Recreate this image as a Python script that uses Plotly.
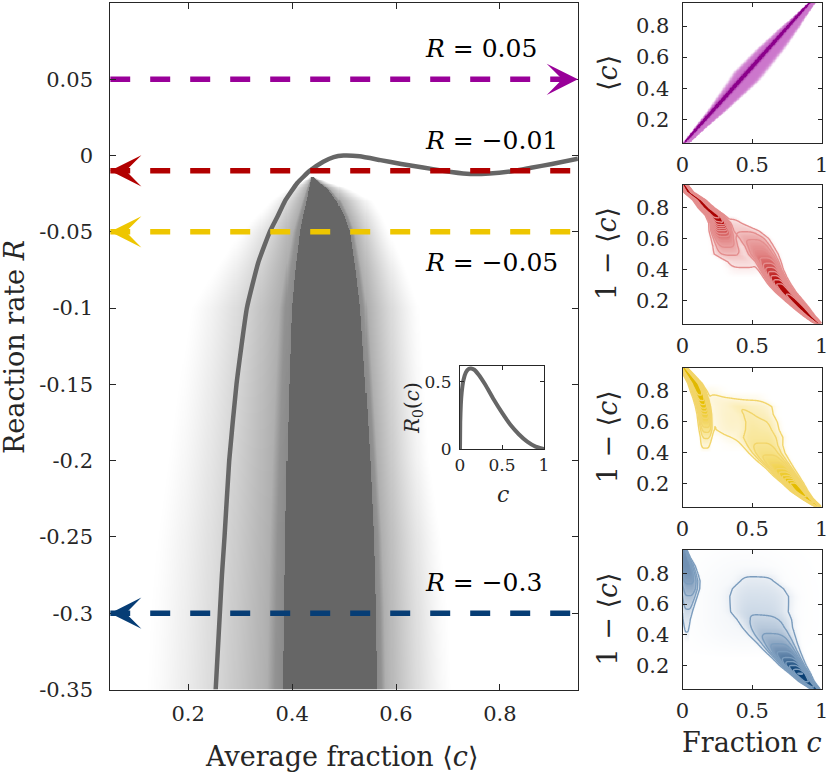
import numpy as np
import plotly.graph_objects as go

# ---------------- main panel data ----------------
# R(<c>) curve
CURVE_C = [0.253, 0.257, 0.261, 0.265, 0.270, 0.279, 0.293, 0.313, 0.335, 0.357,
           0.372, 0.386, 0.410, 0.434, 0.460, 0.480, 0.499, 0.530, 0.570, 0.610,
           0.652, 0.690, 0.736, 0.780, 0.820, 0.860, 0.900, 0.950]
CURVE_R = [-0.35, -0.325, -0.30, -0.275, -0.25, -0.20, -0.15, -0.10, -0.07, -0.05,
           -0.04, -0.03, -0.018, -0.01, -0.004, -0.001, 0.0, -0.0005, -0.003, -0.0055,
           -0.0078, -0.010, -0.012, -0.0118, -0.0104, -0.0080, -0.0055, -0.002]

# gray density behind the curve: per R row, dark core and soft halo edges
DENS_R = [-0.35, -0.30, -0.25, -0.20, -0.15, -0.10, -0.075, -0.05, -0.04, -0.03, -0.022, -0.014]
CORE_L = [0.383, 0.385, 0.387, 0.390, 0.394, 0.399, 0.406, 0.415, 0.421, 0.428, 0.433, 0.438]
CORE_R = [0.563, 0.561, 0.557, 0.550, 0.541, 0.531, 0.522, 0.511, 0.500, 0.486, 0.468, 0.438]
HALO_L = [0.118, 0.125, 0.138, 0.159, 0.180, 0.204, 0.250, 0.300, 0.330, 0.357, 0.390, 0.438]
HALO_R = [0.707, 0.700, 0.688, 0.665, 0.655, 0.646, 0.620, 0.588, 0.575, 0.556, 0.510, 0.438]

# inset R0(c)
R0_C = [0.0, 0.003, 0.01, 0.02, 0.04, 0.07, 0.10, 0.13, 0.17, 0.22, 0.30, 0.40,
        0.50, 0.60, 0.70, 0.80, 0.90, 1.0]
R0_V = [0.0, 0.20, 0.33, 0.42, 0.51, 0.57, 0.595, 0.60, 0.59, 0.555, 0.48, 0.37,
        0.27, 0.18, 0.11, 0.055, 0.018, 0.0]

# reaction-rate cuts
CUT_R = [0.05, -0.01, -0.05, -0.3]
CUT_DIR = ["right", "left", "left", "left"]
CUT_COL = ["#990099", "#b20000", "#eec600", "#063d75"]
CUT_TXT = ["<i>R</i> = 0.05", "<i>R</i> = \u22120.01", "<i>R</i> = \u22120.05", "<i>R</i> = \u22120.3"]

# ---------------- right panels: row profiles of the density ----------------
PANEL_Y = [0.05, 0.10, 0.15, 0.20, 0.25, 0.30, 0.35, 0.40, 0.45, 0.50,
           0.55, 0.60, 0.65, 0.70, 0.75, 0.80, 0.85, 0.90, 0.95]

# R = 0.05 (y = <c>)
P1_CORE_M = [0.01, 0.06, 0.11, 0.16, 0.21, 0.26, 0.31, 0.36, 0.41, 0.46,
             0.51, 0.56, 0.61, 0.66, 0.71, 0.76, 0.81, 0.86, 0.91]
P1_CORE_S = [0.006, 0.008, 0.009, 0.010, 0.011, 0.012, 0.012, 0.013, 0.013, 0.013,
             0.013, 0.013, 0.012, 0.012, 0.011, 0.010, 0.009, 0.008, 0.006]
P1_CORE_A = [1.0, 1.0, 1.0, 1.0, 1.0, 1.0, 1.0, 1.0, 1.0, 1.0,
             1.0, 1.0, 1.0, 1.0, 1.0, 1.0, 1.0, 1.0, 1.0]
P1_BAND_M = [0.03, 0.08, 0.13, 0.185, 0.24, 0.29, 0.34, 0.39, 0.44, 0.48,
             0.53, 0.58, 0.63, 0.68, 0.73, 0.78, 0.83, 0.88, 0.93]
P1_BAND_S = [0.02, 0.03, 0.04, 0.05, 0.06, 0.07, 0.08, 0.09, 0.10, 0.105,
             0.10, 0.095, 0.09, 0.08, 0.07, 0.06, 0.045, 0.035, 0.025]
P1_BAND_A = [0.38, 0.38, 0.38, 0.38, 0.38, 0.38, 0.38, 0.38, 0.38, 0.38,
             0.38, 0.38, 0.38, 0.38, 0.38, 0.38, 0.38, 0.38, 0.38]

# R = -0.01 (y = 1 - <c>)
P2_A_M = [0.975, 0.91, 0.855, 0.80, 0.745, 0.70, 0.665, 0.635, 0.61, 0.57,
          0.54, 0.50, 0.44, 0.36, 0.30, 0.30, 0.30, 0.30, 0.30]
P2_A_S = [0.017, 0.026, 0.035, 0.041, 0.046, 0.051, 0.054, 0.058, 0.065, 0.080,
          0.080, 0.087, 0.087, 0.058, 0.058, 0.058, 0.058, 0.058, 0.058]
P2_A_A = [1.0, 1.0, 1.0, 0.95, 0.9, 0.85, 0.7, 0.55, 0.4, 0.3,
          0.25, 0.18, 0.1, 0.06, 0.0, 0.0, 0.0, 0.0, 0.0]
P2_B_M = [0.45, 0.45, 0.45, 0.45, 0.45, 0.45, 0.45, 0.45, 0.42, 0.34,
          0.32, 0.30, 0.28, 0.27, 0.235, 0.17, 0.12, 0.045, 0.01]
P2_B_S = [0.10, 0.10, 0.10, 0.10, 0.10, 0.10, 0.10, 0.10, 0.087, 0.087,
          0.073, 0.065, 0.058, 0.051, 0.044, 0.036, 0.029, 0.022, 0.017]
P2_B_A = [0.0, 0.0, 0.0, 0.0, 0.0, 0.0, 0.0, 0.02, 0.06, 0.12,
          0.2, 0.3, 0.5, 0.8, 0.95, 0.95, 0.95, 1.0, 1.0]

# R = -0.05
P3_A_M = [0.975, 0.90, 0.84, 0.795, 0.745, 0.70, 0.65, 0.605, 0.575, 0.56,
          0.56, 0.555, 0.53, 0.50, 0.45, 0.45, 0.45, 0.45, 0.45]
P3_A_S = [0.015, 0.026, 0.039, 0.048, 0.059, 0.067, 0.080, 0.091, 0.104, 0.119,
          0.102, 0.099, 0.099, 0.123, 0.116, 0.116, 0.116, 0.116, 0.116]
P3_A_A = [0.7, 0.8, 0.9, 0.85, 0.6, 0.42, 0.32, 0.25, 0.2, 0.16,
          0.13, 0.11, 0.09, 0.07, 0.02, 0.0, 0.0, 0.0, 0.0]
P3_B_M = [0.165, 0.165, 0.165, 0.165, 0.165, 0.165, 0.165, 0.165, 0.165, 0.17,
          0.17, 0.165, 0.16, 0.15, 0.135, 0.115, 0.09, 0.05, 0.01]
P3_B_S = [0.029, 0.029, 0.029, 0.029, 0.029, 0.029, 0.029, 0.029, 0.029, 0.032,
          0.036, 0.036, 0.036, 0.036, 0.036, 0.036, 0.032, 0.025, 0.017]
P3_B_A = [0.0, 0.0, 0.0, 0.0, 0.0, 0.0, 0.0, 0.0, 0.05, 0.12,
          0.22, 0.35, 0.5, 0.7, 0.85, 0.95, 1.0, 1.0, 1.0]
P3_C_M = [0.37, 0.37, 0.37, 0.37, 0.37, 0.37, 0.37, 0.37, 0.38, 0.37,
          0.36, 0.36, 0.35, 0.33, 0.25, 0.20, 0.20, 0.20, 0.20]
P3_C_S = [0.08, 0.08, 0.08, 0.08, 0.08, 0.08, 0.08, 0.08, 0.06, 0.07,
          0.10, 0.10, 0.10, 0.10, 0.08, 0.06, 0.06, 0.06, 0.06]
P3_C_A = [0.0, 0.0, 0.0, 0.0, 0.0, 0.0, 0.0, 0.0, 0.01, 0.03,
          0.06, 0.07, 0.07, 0.06, 0.04, 0.02, 0.0, 0.0, 0.0]

# R = -0.3
P4_A_M = [0.955, 0.89, 0.845, 0.795, 0.755, 0.715, 0.68, 0.645, 0.615, 0.595,
          0.56, 0.56, 0.56, 0.55, 0.54, 0.54, 0.54, 0.54, 0.54]
P4_A_S = [0.022, 0.036, 0.048, 0.061, 0.073, 0.087, 0.10, 0.116, 0.13, 0.145,
          0.16, 0.167, 0.174, 0.16, 0.116, 0.116, 0.116, 0.116, 0.116]
P4_A_A = [0.7, 0.85, 0.95, 0.75, 0.55, 0.42, 0.32, 0.24, 0.18, 0.14,
          0.11, 0.095, 0.08, 0.065, 0.045, 0.01, 0.0, 0.0, 0.0]
P4_B_M = [0.03, 0.03, 0.03, 0.03, 0.03, 0.03, 0.03, 0.03, 0.03, 0.03,
          0.035, 0.04, 0.045, 0.05, 0.045, 0.035, 0.025, 0.015, 0.008]
P4_B_S = [0.0145, 0.0145, 0.0145, 0.0145, 0.0145, 0.0145, 0.0145, 0.0145, 0.019, 0.023,
          0.029, 0.036, 0.044, 0.051, 0.055, 0.051, 0.044, 0.029, 0.017]
P4_B_A = [0.0, 0.0, 0.0, 0.0, 0.0, 0.0, 0.0, 0.03, 0.05, 0.08,
          0.12, 0.17, 0.23, 0.3, 0.36, 0.4, 0.42, 0.42, 0.4]
P4_C_M = [0.45, 0.45, 0.45, 0.45, 0.45, 0.45, 0.45, 0.45, 0.45, 0.45,
          0.45, 0.45, 0.45, 0.45, 0.45, 0.45, 0.45, 0.45, 0.45]
P4_C_S = [0.22, 0.22, 0.22, 0.22, 0.22, 0.22, 0.22, 0.22, 0.22, 0.22,
          0.22, 0.22, 0.22, 0.22, 0.22, 0.22, 0.22, 0.22, 0.22]
P4_C_A = [0.0, 0.0, 0.0, 0.0, 0.0, 0.005, 0.01, 0.015, 0.018, 0.02,
          0.02, 0.02, 0.02, 0.018, 0.016, 0.013, 0.01, 0.007, 0.004]

FONT = "DejaVu Serif"
AX_COL = "#262626"
W, H = 830, 773


def px_x(a, b):
    return [a / W, b / W]


def px_y(top, bottom):
    return [1 - bottom / H, 1 - top / H]


def main_density():
    xs = np.linspace(0.05, 0.95, 451)
    ys = np.linspace(-0.35, 0.1, 900)
    cl = np.interp(ys, DENS_R, CORE_L)[:, None]
    cr = np.interp(ys, DENS_R, CORE_R)[:, None]
    hl = np.interp(ys, DENS_R, HALO_L)[:, None]
    hr = np.interp(ys, DENS_R, HALO_R)[:, None]
    X = xs[None, :]
    core = (X >= cl) & (X <= cr)
    sl = np.clip((X - hl) / np.maximum(cl - hl, 1e-6), 0, 1)
    sr = np.clip((hr - X) / np.maximum(hr - cr, 1e-6), 0, 1)
    s = np.where(X < cl, sl, sr)
    halo = 0.62 * s ** 1.3 + 0.14 * np.clip((s - 0.88) / 0.06, 0, 1)
    z = np.where(core, 1.0, halo)
    z[ys > DENS_R[-1], :] = 0.0
    return xs, ys, z


def panel_field(modes, p_list):
    cs = np.linspace(0, 1, 241)
    ys = np.linspace(0.05, 0.95, 241)
    C = cs[None, :]
    z = np.zeros((len(ys), len(cs)))
    for (m, s, a), p in zip(modes, p_list):
        mm = np.interp(ys, PANEL_Y, m)[:, None]
        ss = np.interp(ys, PANEL_Y, s)[:, None]
        aa = np.interp(ys, PANEL_Y, a)[:, None]
        z += aa * np.exp(-np.abs((C - mm) / ss) ** p / 2)
    return cs, ys, z


fig = go.Figure()

# main panel
dx, dy, dz = main_density()
fig.add_trace(go.Heatmap(x=dx, y=dy, z=dz, zmin=0, zmax=1,
                         colorscale=[[0, "#ffffff"], [1, "#666666"]],
                         showscale=False, hoverinfo="skip", xaxis="x", yaxis="y"))
fig.add_trace(go.Scatter(x=CURVE_C, y=CURVE_R, mode="lines",
                         line=dict(color="#666666", width=4.5, shape="spline", smoothing=0.4),
                         hoverinfo="skip", xaxis="x", yaxis="y"))
X_RANGE = [0.05, 0.95]
for r, col in zip(CUT_R, CUT_COL):
    fig.add_trace(go.Scatter(x=X_RANGE, y=[r, r], mode="lines",
                             line=dict(color=col, width=5.5, dash="20px,20px"),
                             hoverinfo="skip", xaxis="x", yaxis="y"))

# inset
fig.add_trace(go.Scatter(x=R0_C, y=R0_V, mode="lines",
                         line=dict(color="#666666", width=4, shape="spline", smoothing=0.5),
                         cliponaxis=False, hoverinfo="skip", xaxis="x6", yaxis="y6"))

# right panels
panels = [
    ([(P1_CORE_M, P1_CORE_S, P1_CORE_A), (P1_BAND_M, P1_BAND_S, P1_BAND_A)], [2, 10],
     [[0, "#ffffff"], [0.38, "#cc77cc"], [1, "#8b008b"]], None, None),
    ([(P2_A_M, P2_A_S, P2_A_A), (P2_B_M, P2_B_S, P2_B_A)], [4, 4],
     [[0, "#ffffff"], [0.04, "#f8e0e0"], [0.15, "#eeb0b0"], [0.4, "#d86464"],
      [0.75, "#b80e0e"], [1, "#a80000"]], "#e48e8e", (0.03, 0.95, 0.08)),
    ([(P3_A_M, P3_A_S, P3_A_A), (P3_B_M, P3_B_S, P3_B_A), (P3_C_M, P3_C_S, P3_C_A)], [4, 4, 2],
     [[0, "#ffffff"], [0.04, "#fdf5d8"], [0.15, "#f9e8a0"], [0.4, "#f2d455"],
      [0.75, "#e8c000"], [1, "#e0b800"]], "#f2d56a", (0.03, 0.95, 0.08)),
    ([(P4_A_M, P4_A_S, P4_A_A), (P4_B_M, P4_B_S, P4_B_A), (P4_C_M, P4_C_S, P4_C_A)], [4, 4, 2],
     [[0, "#ffffff"], [0.03, "#edf1f6"], [0.12, "#cfdbe8"], [0.4, "#7594b6"],
      [0.75, "#1d4f80"], [1, "#00386e"]], "#7b9cbd", (0.04, 0.95, 0.1)),
]
for i, (modes, plist, cscale, lcol, lev) in enumerate(panels):
    xa, ya = "x%d" % (i + 2), "y%d" % (i + 2)
    cs, ys, z = panel_field(modes, plist)
    fig.add_trace(go.Heatmap(x=cs, y=ys, z=np.clip(z, 0, 1), zmin=0, zmax=1,
                             colorscale=cscale, showscale=False, hoverinfo="skip",
                             xaxis=xa, yaxis=ya))
    if lcol is not None:
        st, en, sz = lev
        fig.add_trace(go.Contour(x=cs, y=ys, z=z, showscale=False, hoverinfo="skip",
                                 contours=dict(coloring="none", start=st, end=en, size=sz),
                                 line=dict(color=lcol, width=1.4, smoothing=1.0),
                                 xaxis=xa, yaxis=ya))


def axis(domain, rng, tickvals, ticktext, anchor, size=21, ticklen=6, standoff=8):
    return dict(domain=domain, range=rng, tickvals=tickvals, ticktext=ticktext,
                anchor=anchor, ticks="inside", ticklen=ticklen, tickwidth=1,
                tickcolor=AX_COL, showline=True, linecolor=AX_COL, linewidth=1,
                mirror="ticks", showgrid=False, zeroline=False, automargin=False,
                tickfont=dict(family=FONT, size=size, color=AX_COL),
                ticklabelstandoff=standoff, fixedrange=True)


layout = dict(
    width=W, height=H, margin=dict(l=0, r=0, t=0, b=0, pad=0, autoexpand=False),
    paper_bgcolor="white", plot_bgcolor="white", showlegend=False,
    font=dict(family=FONT, color=AX_COL),
)
layout["xaxis"] = axis(px_x(110.2, 577.9), [0.05, 0.95], [0.2, 0.4, 0.6, 0.8],
                       ["0.2", "0.4", "0.6", "0.8"], "y", standoff=5)
layout["yaxis"] = axis(px_y(3, 689.5), [-0.35, 0.1],
                       [0.05, 0, -0.05, -0.1, -0.15, -0.2, -0.25, -0.3, -0.35],
                       ["0.05", "0", "-0.05", "-0.1", "-0.15", "-0.2", "-0.25", "-0.3", "-0.35"],
                       "x", standoff=12)
panel_px = [(2.7, 142.7), (184.5, 323.5), (368, 506.7), (550, 689)]
for i, (top, bot) in enumerate(panel_px):
    n = i + 2
    layout["xaxis%d" % n] = axis(px_x(682.5, 821.7), [0, 1], [0, 0.5, 1], ["0", "0.5", "1"],
                                 "y%d" % n, ticklen=4, standoff=3)
    layout["yaxis%d" % n] = axis(px_y(top, bot), [0.05, 0.95], [0.2, 0.4, 0.6, 0.8],
                                 ["0.2", "0.4", "0.6", "0.8"], "x%d" % n, ticklen=4, standoff=8)
layout["xaxis6"] = axis(px_x(460, 544), [0, 1], [0, 0.5, 1], ["0", "0.5", "1"], "y6",
                        size=17, ticklen=4, standoff=1)
layout["yaxis6"] = axis(px_y(365.7, 449), [0, 0.62], [0, 0.5], ["0", "0.5"], "x6",
                        size=17, ticklen=4, standoff=4)

ann = []
# arrow heads
for r, d, col in zip(CUT_R, CUT_DIR, CUT_COL):
    tip = X_RANGE[1] if d == "right" else X_RANGE[0]
    tail = tip - 0.03 if d == "right" else tip + 0.03
    ann.append(dict(x=tip, y=r, ax=tail, ay=r, xref="x", yref="y", axref="x", ayref="y",
                    text="", showarrow=True, arrowhead=3, arrowsize=1.3, arrowwidth=4,
                    arrowcolor=col))
# cut labels
label_y = [0.070, 0.010, -0.070, -0.2797]
for t, ly in zip(CUT_TXT, label_y):
    ann.append(dict(x=0.652, y=ly, xref="x", yref="y", text=t, showarrow=False,
                    xanchor="left", yanchor="middle",
                    font=dict(family=FONT, size=25, color="black")))


def txt(x, y, t, size=27, angle=0):
    return dict(x=x / W, y=1 - y / H, xref="paper", yref="paper", text=t, showarrow=False,
                xanchor="center", yanchor="middle", textangle=angle,
                font=dict(family=FONT, size=size, color=AX_COL))


ann.append(txt(14, 347, "Reaction rate <i>R</i>", angle=-90))
ann.append(txt(342, 756, "Average fraction \u27e8<i>c</i>\u27e9"))
ann.append(txt(752, 742, "Fraction <i>c</i>"))
ann.append(txt(607, 73, "\u27e8<i>c</i>\u27e9", angle=-90))
for top, bot in panel_px[1:]:
    ann.append(txt(607, (top + bot) / 2, "1 \u2212 \u27e8<i>c</i>\u27e9", angle=-90))
ann.append(txt(413, 408, "<i>R</i><sub>0</sub>(<i>c</i>)", size=20, angle=-90))
ann.append(txt(503, 494, "<i>c</i>", size=22))
layout["annotations"] = ann

fig.update_layout(**layout)
fig.write_html("out.html", config={"displayModeBar": False},
               post_script="document.body.style.margin='0px';")
